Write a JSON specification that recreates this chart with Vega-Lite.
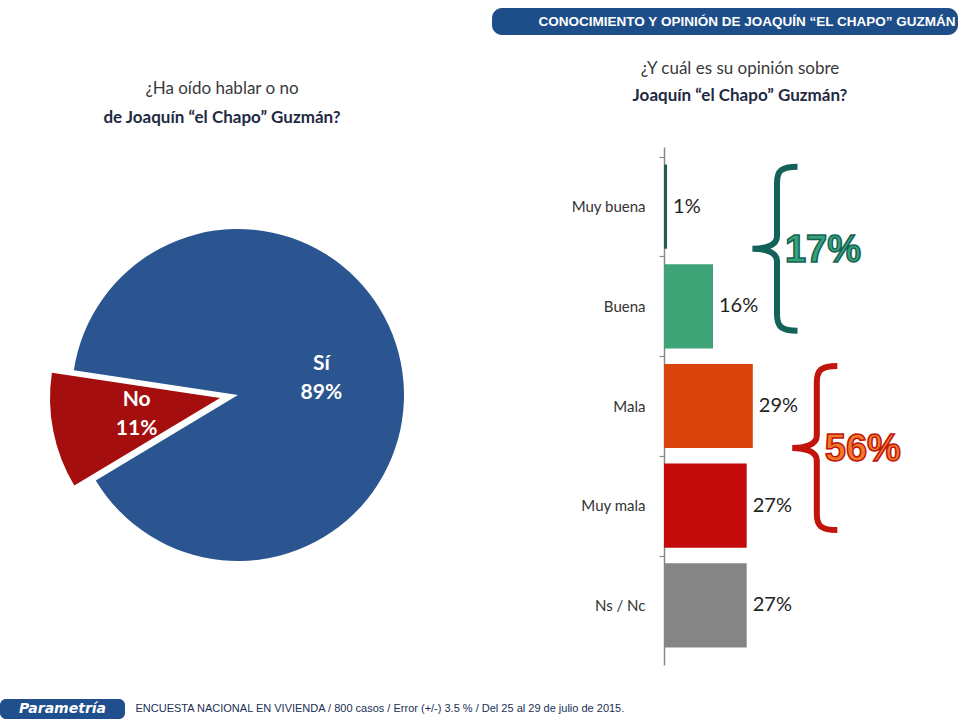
{
  "$schema": "https://vega.github.io/schema/vega-lite/v6.json",
  "background": "white",
  "padding": {"left": 0, "top": 8, "right": 0, "bottom": 0},
  "bounds": "full",
  "spacing": 25,
  "config": {"view": {"stroke": null}, "font": "Lato"},
  "vconcat": [
    {
      "bounds": "full",
      "spacing": 0,
      "hconcat": [
        {"width": 492, "height": 27, "data": {"values": []}, "mark": "text"},
        {
          "width": 466,
          "height": 27,
          "view": {"fill": "#1d4e89", "stroke": null, "cornerRadius": 10},
          "data": {"values": [{"titulo": "CONOCIMIENTO  Y OPINIÓN  DE JOAQUÍN “EL CHAPO” GUZMÁN"}]},
          "mark": {"type": "text", "font": "Liberation Sans", "fontWeight": "bold", "fontSize": 13.5, "color": "white", "dx": 22},
          "encoding": {"text": {"field": "titulo"}}
        }
      ]
    },
    {
      "bounds": "full",
      "spacing": 34,
      "vconcat": [
        {
          "bounds": "flush",
          "spacing": 188,
          "resolve": {"scale": {"color": "independent"}},
          "hconcat": [
            {
              "width": 476,
              "height": 490,
              "title": {
                "text": "¿Ha oído hablar o no",
                "subtitle": "de Joaquín “el Chapo” Guzmán?",
                "anchor": "middle",
                "dx": -16,
                "offset": 20,
                "font": "Lato",
                "fontSize": 17,
                "fontWeight": "normal",
                "color": "#3a3a3a",
                "subtitleFont": "Lato",
                "subtitleFontSize": 17,
                "subtitleFontWeight": "bold",
                "subtitleColor": "#1f2a44",
                "subtitlePadding": 12
              },
              "data": {"values": [
                {"respuesta": "Sí", "pct": 0.89},
                {"respuesta": "No", "pct": 0.11}
              ]},
              "encoding": {
                "theta": {"field": "pct", "type": "quantitative", "stack": true, "scale": {"range": [4.171, 10.454]}},
                "order": {"field": "respuesta", "type": "nominal", "sort": "ascending"}
              },
              "layer": [
                {
                  "mark": {"type": "arc", "outerRadius": 166, "yOffset": 3},
                  "encoding": {
                    "color": {"field": "respuesta", "type": "nominal", "scale": {"domain": ["No", "Sí"], "range": ["#a50e0e", "#2a5590"]}, "legend": null},
                    "opacity": {"condition": {"test": "datum.respuesta === 'No'", "value": 0}, "value": 1}
                  }
                },
                {
                  "mark": {"type": "arc", "outerRadius": 170, "xOffset": -18, "yOffset": 6},
                  "encoding": {
                    "color": {"field": "respuesta", "type": "nominal", "scale": {"domain": ["No", "Sí"], "range": ["#a50e0e", "#2a5590"]}, "legend": null},
                    "opacity": {"condition": {"test": "datum.respuesta === 'Sí'", "value": 0}, "value": 1}
                  }
                },
                {
                  "mark": {"type": "text", "radius": 85, "dy": -11.5, "fontSize": 21, "fontWeight": "bold", "color": "white"},
                  "encoding": {
                    "detail": {"field": "respuesta"},
                    "text": {"field": "respuesta"},
                    "opacity": {"condition": {"test": "datum.respuesta === 'No'", "value": 0}, "value": 1}
                  }
                },
                {
                  "mark": {"type": "text", "radius": 85, "dy": 17.5, "fontSize": 21, "fontWeight": "bold", "color": "white"},
                  "encoding": {
                    "detail": {"field": "respuesta"},
                    "text": {"field": "pct", "type": "quantitative", "format": ".0%"},
                    "opacity": {"condition": {"test": "datum.respuesta === 'No'", "value": 0}, "value": 1}
                  }
                },
                {
                  "mark": {"type": "text", "radius": 85, "dx": -18, "dy": -8.5, "fontSize": 21, "fontWeight": "bold", "color": "white"},
                  "encoding": {
                    "detail": {"field": "respuesta"},
                    "text": {"field": "respuesta"},
                    "opacity": {"condition": {"test": "datum.respuesta === 'Sí'", "value": 0}, "value": 1}
                  }
                },
                {
                  "mark": {"type": "text", "radius": 85, "dx": -18, "dy": 20.5, "fontSize": 21, "fontWeight": "bold", "color": "white"},
                  "encoding": {
                    "detail": {"field": "respuesta"},
                    "text": {"field": "pct", "type": "quantitative", "format": ".0%"},
                    "opacity": {"condition": {"test": "datum.respuesta === 'Sí'", "value": 0}, "value": 1}
                  }
                }
              ]
            },
            {
              "width": 294,
              "height": 518,
              "title": {
                "text": "¿Y cuál es su opinión sobre",
                "subtitle": "Joaquín “el Chapo” Guzmán?",
                "anchor": "middle",
                "frame": "group",
                "dx": -71,
                "offset": 42,
                "font": "Lato",
                "fontSize": 17,
                "fontWeight": "normal",
                "color": "#3a3a3a",
                "subtitleFont": "Lato",
                "subtitleFontSize": 17,
                "subtitleFontWeight": "bold",
                "subtitleColor": "#1f2a44",
                "subtitlePadding": 10
              },
              "layer": [
                {
                  "data": {"values": [
                    {"respuesta": "Muy buena", "pct": 0.01},
                    {"respuesta": "Buena", "pct": 0.16},
                    {"respuesta": "Mala", "pct": 0.29},
                    {"respuesta": "Muy mala", "pct": 0.27},
                    {"respuesta": "Ns / Nc", "pct": 0.27}
                  ]},
                  "layer": [
                    {
                      "mark": {"type": "bar"},
                      "encoding": {
                        "y": {
                          "field": "respuesta", "type": "nominal", "title": null,
                          "scale": {"domain": ["Muy buena", "Buena", "Mala", "Muy mala", "Ns / Nc"], "paddingInner": 0.156, "paddingOuter": 0.176},
                          "axis": {"domain": true, "domainColor": "#8a8a8a", "domainWidth": 1.5, "ticks": true, "tickSize": 5, "tickColor": "#8a8a8a", "tickWidth": 1.2, "bandPosition": 0, "tickOffset": -7.8, "labelOffset": 7.8, "grid": false, "labelPadding": 14, "labelFontSize": 15, "labelColor": "#333333", "labelFont": "Lato"}
                        },
                        "x": {"field": "pct", "type": "quantitative", "scale": {"domain": [0, 0.96]}, "axis": null},
                        "color": {
                          "field": "respuesta", "type": "nominal", "legend": null,
                          "scale": {"domain": ["Muy buena", "Buena", "Mala", "Muy mala", "Ns / Nc"], "range": ["#1a5f52", "#3ea477", "#d9440d", "#c40b0b", "#858585"]}
                        }
                      }
                    },
                    {
                      "mark": {"type": "text", "align": "left", "dx": 6, "fontSize": 20, "color": "#222222", "font": "Lato"},
                      "encoding": {
                        "y": {"field": "respuesta", "type": "nominal", "title": null, "scale": {"domain": ["Muy buena", "Buena", "Mala", "Muy mala", "Ns / Nc"], "paddingInner": 0.156, "paddingOuter": 0.176}},
                        "x": {"field": "pct", "type": "quantitative", "scale": {"domain": [0, 0.96]}, "axis": null},
                        "text": {"field": "pct", "type": "quantitative", "format": ".0%"}
                      }
                    }
                  ]
                },
                {
                  "data": {"values": [
                    {"grupo": "Positiva", "total": 0.17, "desde": "Muy buena", "maximo": 0.16},
                    {"grupo": "Negativa", "total": 0.56, "desde": "Mala", "maximo": 0.29}
                  ]},
                  "layer": [
                    {
                      "mark": {
                        "type": "point",
                        "shape": "M0.25,-1 C0.05,-1 0,-0.95 0,-0.8 L0,-0.15 C0,-0.04 -0.15,0 -0.3,0 C-0.15,0 0,0.04 0,0.15 L0,0.8 C0,0.95 0.05,1 0.25,1",
                        "size": 26896,
                        "strokeWidth": 6,
                        "filled": false,
                        "opacity": 1,
                        "xOffset": 64
                      },
                      "encoding": {
                        "x": {"field": "maximo", "type": "quantitative", "scale": {"domain": [0, 0.96]}, "axis": null},
                        "y": {"field": "desde", "type": "nominal", "title": null, "bandPosition": 1, "scale": {"domain": ["Muy buena", "Buena", "Mala", "Muy mala", "Ns / Nc"], "paddingInner": 0.156, "paddingOuter": 0.176}},
                        "stroke": {"field": "grupo", "type": "nominal", "legend": null, "scale": {"domain": ["Positiva", "Negativa"], "range": ["#12625a", "#c0140c"]}}
                      }
                    },
                    {
                      "mark": {"type": "text", "dx": 110, "dy": 2, "fontSize": 38, "font": "Liberation Sans", "fontWeight": "bold", "strokeWidth": 1.5},
                      "encoding": {
                        "x": {"field": "maximo", "type": "quantitative", "scale": {"domain": [0, 0.96]}, "axis": null},
                        "y": {"field": "desde", "type": "nominal", "title": null, "bandPosition": 1, "scale": {"domain": ["Muy buena", "Buena", "Mala", "Muy mala", "Ns / Nc"], "paddingInner": 0.156, "paddingOuter": 0.176}},
                        "text": {"field": "total", "type": "quantitative", "format": ".0%"},
                        "fill": {"field": "grupo", "type": "nominal", "legend": null, "scale": {"domain": ["Positiva", "Negativa"], "range": ["#3aa273", "#f27b2a"]}},
                        "stroke": {"field": "grupo", "type": "nominal", "legend": null, "scale": {"domain": ["Positiva", "Negativa"], "range": ["#12625a", "#c0140c"]}}
                      }
                    }
                  ]
                }
              ]
            }
          ]
        },
        {
          "bounds": "full",
          "spacing": 10,
          "hconcat": [
            {
              "width": 125,
              "height": 20,
              "view": {"fill": "#1f4f8c", "stroke": null, "cornerRadius": 6},
              "data": {"values": [{"marca": "Parametría"}]},
              "mark": {"type": "text", "color": "white", "fontStyle": "italic", "fontWeight": "bold", "fontSize": 14, "font": "DejaVu Sans"},
              "encoding": {"text": {"field": "marca"}}
            },
            {
              "width": 1,
              "height": 20,
              "data": {"values": [{"nota": "ENCUESTA  NACIONAL EN VIVIENDA  / 800 casos / Error (+/-)  3.5 % / Del 25 al 29 de julio de 2015."}]},
              "mark": {"type": "text", "align": "left", "fontSize": 11, "font": "Liberation Sans", "color": "#1a2f55"},
              "encoding": {"text": {"field": "nota"}}
            }
          ]
        }
      ]
    }
  ]
}
